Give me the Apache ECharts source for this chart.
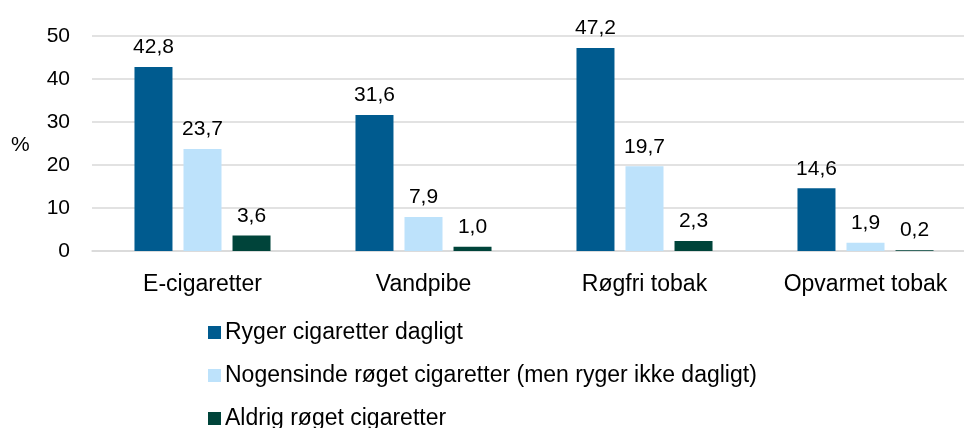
<!DOCTYPE html>
<html><head><meta charset="utf-8">
<script src="https://cdn.jsdelivr.net/npm/echarts@6/dist/echarts.min.js"></script>
<style>html,body{margin:0;padding:0;background:#fff}#c{width:964px;height:428px}</style>
</head><body><div id="c"></div>
<script>
const categories = ['E-cigaretter', 'Vandpibe', 'Røgfri tobak', 'Opvarmet tobak'];
const seriesNames = ['Ryger cigaretter dagligt', 'Nogensinde røget cigaretter (men ryger ikke dagligt)', 'Aldrig røget cigaretter'];
const dailySmokers = [42.8, 31.6, 47.2, 14.6];
const everSmoked = [23.7, 7.9, 19.7, 1.9];
const neverSmoked = [3.6, 1.0, 2.3, 0.2];
const yTicks = [0, 10, 20, 30, 40, 50];
const colors = ['#005b8f', '#bde2fb', '#00443a'];
const font = 'Liberation Sans, Arial, sans-serif';

const chart = echarts.init(document.getElementById('c'));
const mk = (name, data, color) => ({
  name, type: 'bar', data, barWidth: 38, barGap: '29%',
  itemStyle: { color },
  label: { show: true, position: 'top', distance: 9, color: '#000', fontSize: 21, fontFamily: font,
    formatter: p => p.value.toFixed(1).replace('.', ',') }
});
chart.setOption({
  animation: false,
  textStyle: { fontFamily: font },
  grid: { left: 92, width: 884, top: 36, bottom: 177, containLabel: false, outerBoundsMode: 'none' },
  xAxis: { type: 'category', data: categories,
    axisLine: { lineStyle: { color: '#d9d9d9', width: 1.5 } }, axisTick: { show: false },
    axisLabel: { color: '#000', fontSize: 23, margin: 22, fontFamily: font } },
  yAxis: { type: 'value', min: yTicks[0], max: yTicks[yTicks.length - 1], interval: yTicks[1] - yTicks[0],
    axisLine: { show: false }, axisTick: { show: false },
    splitLine: { lineStyle: { color: '#d9d9d9', width: 1.5 } },
    axisLabel: { color: '#000', fontSize: 21, margin: 22, fontFamily: font } },
  legend: { orient: 'vertical', left: 203, top: 316, height: 200, itemWidth: 13, itemHeight: 13, itemGap: 20,
    icon: 'rect', textStyle: { color: '#000', fontSize: 23, fontFamily: font, padding: [0,0,0,-1] } },
  graphic: [{ type: 'text', left: 11, top: 135, style: { text: '%', font: '21px ' + font, fill: '#000' } }],
  series: [mk(seriesNames[0], dailySmokers, colors[0]), mk(seriesNames[1], everSmoked, colors[1]), mk(seriesNames[2], neverSmoked, colors[2])]
});
</script></body></html>
